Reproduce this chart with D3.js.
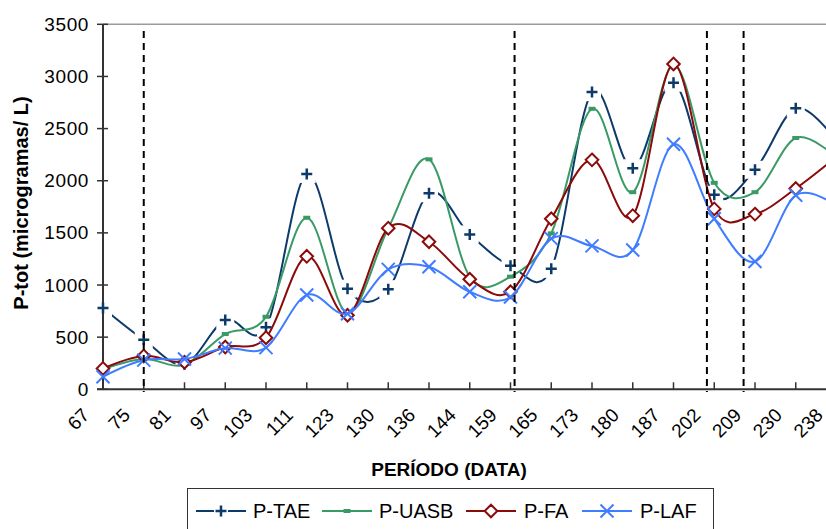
<!DOCTYPE html>
<html>
<head>
<meta charset="utf-8">
<script src="https://cdn.jsdelivr.net/npm/d3@7"></script>
<style>
  html, body { margin: 0; padding: 0; background: #fff; }
  svg { display: block; font-family: "Liberation Sans", Arial, sans-serif; }
</style>
</head>
<body>
<svg id="chart" width="826" height="529"></svg>
<script>
// Sampling periods (days) and total phosphorus per treatment stage (µg/L)
const periods = ["67","75","81","97","103","111","123","130","136","144","159","165","173","180","187","202","209","230","238"];
const pTAE  = [780, 475, 240, 665, 595, 2065, 965, 960, 1880, 1485, 1185, 1155, 2850, 2120, 2940, 1865, 2105, 2695, 2380];
const pUASB = [190, 290, 235, 530, 695, 1645, 730, 1545, 2205, 1080, 1080, 1495, 2690, 1890, 3110, 1980, 1890, 2410, 2220];
const pFA   = [200, 320, 260, 405, 495, 1275, 710, 1545, 1415, 1055, 935, 1635, 2200, 1665, 3120, 1730, 1680, 1925, 2230];
const pLAF  = [120, 280, 290, 395, 400, 905, 725, 1150, 1175, 935, 885, 1445, 1375, 1335, 2350, 1635, 1225, 1860, 1760];
const seriesNames = ["P-TAE", "P-UASB", "P-FA", "P-LAF"];
const yTicks = [0, 500, 1000, 1500, 2000, 2500, 3000, 3500];
// Operational phase changes, in period-index units
const phaseBreaks = [1, 10.1, 14.82, 15.72];

const svg = d3.select("#chart");
const plotLeft = 103, plotTop = 24.3, plotBottom = 389.3, step = 40.75;

const x = d3.scalePoint().domain(periods).range([plotLeft, plotLeft + step * (periods.length - 1)]);
const xi = d3.scaleLinear().domain([0, periods.length - 1]).range(x.range());
const y = d3.scaleLinear().domain([0, 3500]).range([plotBottom, plotTop]);

const colors = { "P-TAE": "#0c3a6b", "P-UASB": "#3a9a66", "P-FA": "#8b0a0a", "P-LAF": "#3f7cff" };
const values = { "P-TAE": pTAE, "P-UASB": pUASB, "P-FA": pFA, "P-LAF": pLAF };

// ---- axes frame ----
svg.append("line").attr("x1", plotLeft).attr("x2", 826).attr("y1", plotTop).attr("y2", plotTop)
  .attr("stroke", "#9a9a9a").attr("stroke-width", 1.5);

const yAxis = d3.axisLeft(y).tickValues(yTicks).tickFormat(d3.format("d")).tickSize(0).tickPadding(14);
const gy = svg.append("g").attr("transform", `translate(${plotLeft},0)`).call(yAxis);
gy.select(".domain").remove();
gy.selectAll("text").attr("font-size", 19).attr("fill", "#000")
  .attr("font-family", "'Liberation Sans', Arial, sans-serif").attr("letter-spacing", 0.6);
svg.append("g").selectAll("line").data(yTicks).join("line")
  .attr("x1", plotLeft - 6).attr("x2", plotLeft + 5).attr("y1", d => y(d)).attr("y2", d => y(d))
  .attr("stroke", "#333").attr("stroke-width", 1.5);
svg.append("line").attr("x1", plotLeft).attr("x2", plotLeft).attr("y1", plotTop).attr("y2", plotBottom)
  .attr("stroke", "#333").attr("stroke-width", 2);

const xAxis = d3.axisBottom(x).tickSize(0).tickPadding(0);
const gx = svg.append("g").attr("transform", `translate(0,${plotBottom})`).call(xAxis);
gx.select(".domain").remove();
gx.selectAll(".tick text")
  .attr("font-size", 19).attr("fill", "#000")
  .attr("font-family", "'Liberation Sans', Arial, sans-serif")
  .attr("text-anchor", "end").attr("dy", null).attr("y", null)
  .attr("transform", "translate(-13,27) rotate(-45)");
svg.append("g").selectAll("line").data(periods).join("line")
  .attr("x1", d => x(d)).attr("x2", d => x(d)).attr("y1", plotBottom).attr("y2", plotBottom - 7)
  .attr("stroke", "#333").attr("stroke-width", 1.5);
svg.append("line").attr("x1", plotLeft - 6).attr("x2", 826).attr("y1", plotBottom).attr("y2", plotBottom)
  .attr("stroke", "#333").attr("stroke-width", 2);

// ---- axis titles ----
svg.append("text").attr("transform", "translate(28,203) rotate(-90)")
  .attr("text-anchor", "middle").attr("font-weight", "bold").attr("font-size", 20)
  .text("P-tot (microgramas/ L)");
svg.append("text").attr("x", 449).attr("y", 476)
  .attr("text-anchor", "middle").attr("font-weight", "bold").attr("font-size", 19)
  .text("PERÍODO (DATA)");

// ---- series ----
const line = d3.line().x((d, i) => x(periods[i])).y(d => y(d)).curve(d3.curveCardinal.tension(0));

// the TAE line is broken around each "+" marker
const defs = svg.append("defs");
const mask = defs.append("mask").attr("id", "taeGap").attr("maskUnits", "userSpaceOnUse")
  .attr("x", 0).attr("y", 0).attr("width", 900).attr("height", 529);
mask.append("rect").attr("x", 0).attr("y", 0).attr("width", 900).attr("height", 529).attr("fill", "#fff");
mask.selectAll("rect.gap").data(pTAE).join("rect").attr("class", "gap")
  .attr("x", (d, i) => x(periods[i]) - 9).attr("y", d => y(d) - 9)
  .attr("width", 18).attr("height", 18).attr("fill", "#000");

function marker(g, name, cx, cy) {
  const c = colors[name];
  if (name === "P-TAE") {
    g.append("path").attr("d", `M${cx - 5.5},${cy}H${cx + 5.5}M${cx},${cy - 5.5}V${cy + 5.5}`)
      .attr("stroke", c).attr("stroke-width", 2.5).attr("fill", "none");
  } else if (name === "P-UASB") {
    g.append("rect").attr("x", cx - 3.5).attr("y", cy - 2).attr("width", 7).attr("height", 4).attr("fill", c);
  } else if (name === "P-FA") {
    g.append("path").attr("d", `M${cx},${cy - 6.3}L${cx + 6.3},${cy}L${cx},${cy + 6.3}L${cx - 6.3},${cy}Z`)
      .attr("stroke", c).attr("stroke-width", 2).attr("fill", "#fff");
  } else {
    g.append("path").attr("d", `M${cx - 6.5},${cy - 6.5}L${cx + 6.5},${cy + 6.5}M${cx - 6.5},${cy + 6.5}L${cx + 6.5},${cy - 6.5}`)
      .attr("stroke", c).attr("stroke-width", 2).attr("fill", "none");
  }
}

seriesNames.forEach(name => {
  const g = svg.append("g");
  const p = g.append("path").datum(values[name]).attr("d", line)
    .attr("fill", "none").attr("stroke", colors[name]).attr("stroke-width", 2);
  if (name === "P-TAE") p.attr("mask", "url(#taeGap)");
  values[name].forEach((v, i) => marker(g, name, x(periods[i]), y(v)));
});

// ---- phase separators ----
svg.append("g").selectAll("line").data(phaseBreaks).join("line")
  .attr("x1", d => xi(d)).attr("x2", d => xi(d)).attr("y1", 31).attr("y2", 392)
  .attr("stroke", "#000").attr("stroke-width", 2).attr("stroke-dasharray", "7,5");

// ---- legend ----
const lg = svg.append("g");
lg.append("rect").attr("x", 187.5).attr("y", 488.5).attr("width", 526).attr("height", 60)
  .attr("fill", "#fff").attr("stroke", "#333").attr("stroke-width", 1);
const items = [
  { name: "P-TAE", x0: 196, tx: 253 },
  { name: "P-UASB", x0: 322, tx: 379 },
  { name: "P-FA", x0: 466, tx: 524 },
  { name: "P-LAF", x0: 582, tx: 640 }
];
const ly = 511;
items.forEach(it => {
  const c = colors[it.name], mid = it.x0 + 25;
  if (it.name === "P-TAE") {
    lg.append("line").attr("x1", it.x0).attr("x2", mid - 7).attr("y1", ly).attr("y2", ly).attr("stroke", c).attr("stroke-width", 2);
    lg.append("line").attr("x1", mid + 7).attr("x2", it.x0 + 50).attr("y1", ly).attr("y2", ly).attr("stroke", c).attr("stroke-width", 2);
  } else {
    lg.append("line").attr("x1", it.x0).attr("x2", it.x0 + 50).attr("y1", ly).attr("y2", ly).attr("stroke", c).attr("stroke-width", 2);
  }
  marker(lg, it.name, mid, ly);
  lg.append("text").attr("x", it.tx).attr("y", 518).attr("font-size", 20).attr("fill", "#000").text(it.name);
});
</script>
</body>
</html>
